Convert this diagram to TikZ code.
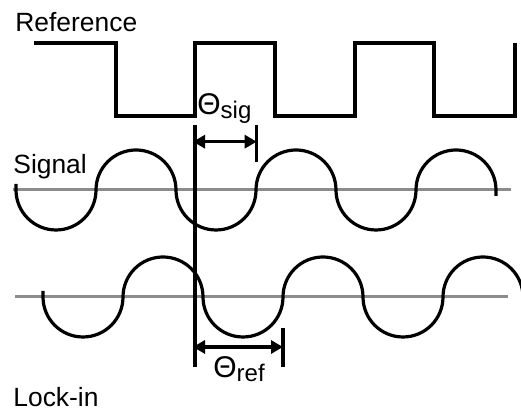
\documentclass[tikz,border=0pt]{standalone}
\usepackage{fontspec}
\setmainfont{Liberation Sans}
\usetikzlibrary{arrows.meta}
\tikzset{
  wave/.style={line width=1.6pt},
  axisline/.style={line width=1.5pt,black!45},
  dimarrow/.style={line width=1.6pt,{Triangle[length=6pt,width=6.5pt]}-{Triangle[length=6pt,width=6.5pt]}},
  lbl/.style={inner sep=0pt,anchor=base west,font=\fontsize{13.2}{15}\selectfont},
}
\newcommand{\phaselbl}[1]{\fontsize{15}{17}\selectfont Θ\raisebox{-1.8pt}{\fontsize{12}{14}\selectfont #1}}
\begin{document}
\begin{tikzpicture}[x=0.5pt,y=0.5pt]
\clip (0,0) rectangle (521,410);
% labels
\node[lbl] (reflabel) at (15,378.5) {Reference};
\node[lbl] (siglabel) at (13,236.7) {Signal};
\node[lbl] (locklabel) at (13,3.5) {Lock-in};
% reference square wave
\draw[wave] (34,367) -- (116,367) -- (116,294) -- (195,294) -- (195,367) -- (275,367) -- (275,294)
  -- (355,294) -- (355,367) -- (434,367) -- (434,294) -- (515,294) -- (515,367);
% zero lines
\draw[axisline] (13,220) -- (511,220);
\draw[axisline] (15,113) -- (508,113);
% signal
\draw[wave] (16,226) -- (16,220)
  arc[start angle=180,end angle=360,radius=40] arc[start angle=180,end angle=0,radius=40]
  arc[start angle=180,end angle=360,radius=40] arc[start angle=180,end angle=0,radius=40]
  arc[start angle=180,end angle=360,radius=40] arc[start angle=180,end angle=0,radius=40]
  -- ++(0,-6);
% lock-in
\draw[wave] (43,119) -- (43,113)
  arc[start angle=180,end angle=360,radius=40] arc[start angle=180,end angle=0,radius=40]
  arc[start angle=180,end angle=360,radius=40] arc[start angle=180,end angle=0,radius=40]
  arc[start angle=180,end angle=360,radius=40] arc[start angle=180,end angle=0,radius=40];
% phase marks
\coordinate (zerotop) at (195,285);
\coordinate (zerobot) at (195,43);
\draw[wave] (zerotop) -- (zerobot);
\coordinate (sigtick) at (256.7,285);
\coordinate (sigtickb) at (256.7,248);
\draw[wave] (sigtick) -- (sigtickb);
\coordinate (sigL) at (193,268.3);
\coordinate (sigR) at (256.7,268.3);
\draw[dimarrow] (sigL) -- (sigR);
\node[inner sep=0pt,anchor=base west] (thsig) at (197,295) {\phaselbl{sig}};
\coordinate (reftick) at (283,82);
\coordinate (reftickb) at (283,43);
\draw[wave] (reftick) -- (reftickb);
\coordinate (refL) at (193,63);
\coordinate (refR) at (283,63);
\draw[dimarrow] (refL) -- (refR);
\node[inner sep=0pt,anchor=base west] (thref) at (213,32) {\phaselbl{ref}};
\end{tikzpicture}
\end{document}
